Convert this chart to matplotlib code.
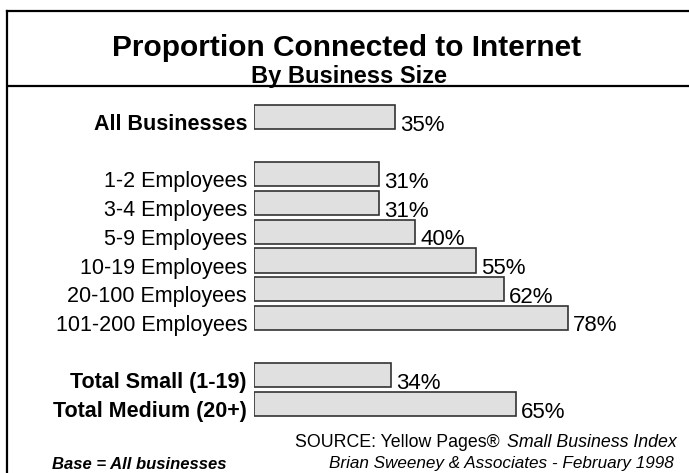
import matplotlib
matplotlib.use("Agg")
import matplotlib.pyplot as plt
from matplotlib import font_manager, transforms
from matplotlib.lines import Line2D

# Chart data
categories = [
    "All Businesses",
    "1-2 Employees",
    "3-4 Employees",
    "5-9 Employees",
    "10-19 Employees",
    "20-100 Employees",
    "101-200 Employees",
    "Total Small (1-19)",
    "Total Medium (20+)",
]
values = [35, 31, 31, 40, 55, 62, 78, 34, 65]
row_positions = [0, 2, 3, 4, 5, 6, 7, 9, 10]
bold_rows = {"All Businesses", "Total Small (1-19)", "Total Medium (20+)"}

title = "Proportion Connected to Internet"
subtitle = "By Business Size"
source_plain = "SOURCE: Yellow Pages®"
source_italic = "Small Business Index"
credit = "Brian Sweeney & Associates - February 1998"
base_note = "Base = All businesses"

W, H = 689, 473
plt.rcParams["font.family"] = ["Liberation Sans", "DejaVu Sans"]


def has_font(name):
    try:
        path = font_manager.findfont(font_manager.FontProperties(family=name),
                                     fallback_to_default=False)
        return "Narrow" in path
    except Exception:
        return False


use_narrow = has_font("Liberation Sans Narrow")
narrow = ["Liberation Sans Narrow", "Liberation Sans", "DejaVu Sans"] \
    if use_narrow else ["Liberation Sans", "DejaVu Sans"]
note_scale = 1.2 if use_narrow else 1.0

fig = plt.figure(figsize=(W / 100, H / 100), dpi=100)


def fx(px):
    return px / W


def fy(py):
    return 1 - py / H


# Plot area: 0-100 % across, rows spaced evenly
left_px, px_per_pct = 254, 4.03
pitch = 28.7
top_row_px = 117
ax = fig.add_axes([fx(left_px), fy(top_row_px + 10.5 * pitch),
                   fx(100 * px_per_pct), (11 * pitch) / H])
ax.set_xlim(0, 100)
ax.set_ylim(10.5, -0.5)
ax.axis("off")

bar_h = 0.84
ax.barh(row_positions, values, height=bar_h, left=0,
        color="#e0e0e0", edgecolor="#333333", linewidth=1.2)

label_tf = transforms.offset_copy(ax.transData, fig=fig, x=-7, y=-1, units="dots")
val_tf = transforms.offset_copy(ax.transData, fig=fig, x=5, y=-1.5, units="dots")
for cat, v, pos in zip(categories, values, row_positions):
    ax.text(0, pos + bar_h / 2, cat, transform=label_tf, ha="right", va="baseline",
            fontsize=15.5, fontweight="bold" if cat in bold_rows else "normal")
    ax.text(v, pos + bar_h / 2, f"{v}%", transform=val_tf, ha="left",
            va="baseline", fontsize=16)

# Titles
fig.text(fx(347), fy(56), title, ha="center", va="baseline",
         fontsize=21.5, fontweight="bold")
fig.text(fx(349), fy(83.5), subtitle, ha="center", va="baseline",
         fontsize=17, fontweight="bold")

# Frame lines
fig.add_artist(Line2D([fx(7), fx(7)], [fy(11), fy(H + 5)], color="black",
                      linewidth=1.6, transform=fig.transFigure))
fig.add_artist(Line2D([fx(7), fx(W + 5)], [fy(11), fy(11)], color="black",
                      linewidth=1.6, transform=fig.transFigure))
fig.add_artist(Line2D([fx(8), fx(W + 5)], [fy(86.5), fy(86.5)], color="black",
                      linewidth=1.6, transform=fig.transFigure))

# Source notes
t_it = fig.text(fx(677), fy(447), source_italic, ha="right", va="baseline",
                fontsize=12.8 * note_scale, style="italic", family=narrow)
fig.canvas.draw()
bb = t_it.get_window_extent()
fig.text(fx(bb.x0 - 8), fy(447), source_plain, ha="right", va="baseline",
         fontsize=12.8 * note_scale, family=narrow)
fig.text(fx(674), fy(468), credit, ha="right", va="baseline",
         fontsize=12.3 * note_scale, style="italic", family=narrow)
fig.text(fx(52), fy(469), base_note, ha="left", va="baseline",
         fontsize=12 * note_scale, style="italic", fontweight="bold", family=narrow)

fig.savefig("out.png", dpi=100)
